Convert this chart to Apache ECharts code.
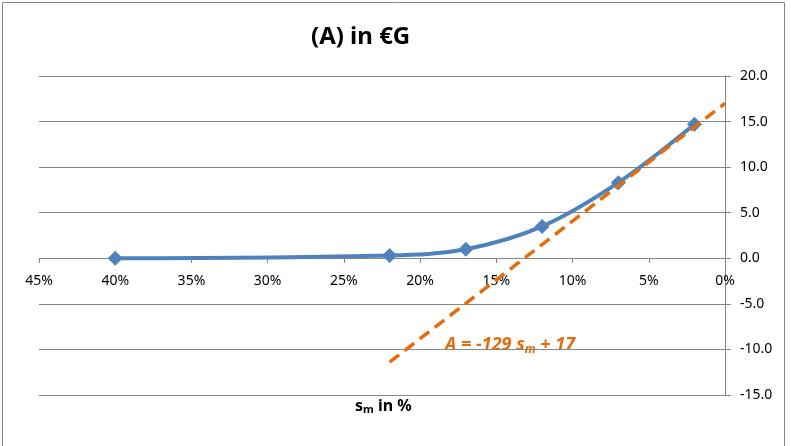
<!DOCTYPE html>
<html>
<head>
<meta charset="utf-8">
<script src="https://cdn.jsdelivr.net/npm/echarts@6/dist/echarts.min.js"></script>
<style>
    html, body { margin: 0; padding: 0; background: #fff; }
    #chart { width: 791px; height: 446px; }
</style>
</head>
<body>
<div id="chart"></div>
<script>
// s_m in % and A in €G
const sm = [40, 22, 17, 12, 7, 2];
const A = [0.0, 0.3, 1.0, 3.5, 8.3, 14.7];

// linear fit A = -129 s_m + 17, drawn from s_m = 22% to 0%
const trendSm = [22, 0];
const trendA = [-11.4, 17];

const xTicks = [0, 5, 10, 15, 20, 25, 30, 35, 40, 45];
const yTicks = [-15, -10, -5, 0, 5, 10, 15, 20];

const blue = '#4F81BD';
const orange = '#E46C0A';
const gray = '#868686';
const font = 'Noto Sans';

const chart = echarts.init(document.getElementById('chart'));

// grid 1 only carries the x axis, whose bottom edge sits on A = 0
chart.setOption({
    animation: false,
    backgroundColor: '#fff',
    textStyle: { fontFamily: font },
    grid: [
        { left: 39, right: 66, top: 76, bottom: 51 },
        { left: 39, right: 66, top: 76, bottom: 188 }
    ],
    xAxis: [{
        type: 'value',
        gridIndex: 0,
        inverse: true,
        min: xTicks[0],
        max: xTicks[xTicks.length - 1],
        interval: 5,
        show: false
    }, {
        type: 'value',
        gridIndex: 1,
        inverse: true,
        min: xTicks[0],
        max: xTicks[xTicks.length - 1],
        interval: 5,
        position: 'bottom',
        axisLine: { show: true, onZero: false, lineStyle: { color: gray, width: 1 } },
        axisTick: { show: true, length: 5, inside: false, lineStyle: { color: gray } },
        axisLabel: {
            color: '#000',
            fontSize: 14,
            margin: 16,
            formatter: v => v + '%'
        },
        splitLine: { show: false }
    }],
    yAxis: [{
        type: 'value',
        gridIndex: 0,
        position: 'right',
        min: yTicks[0],
        max: yTicks[yTicks.length - 1],
        interval: 5,
        axisLine: { show: true, onZero: false, lineStyle: { color: gray, width: 1 } },
        axisTick: { show: true, length: 6, lineStyle: { color: gray } },
        axisLabel: {
            color: '#000',
            fontSize: 14,
            margin: 15,
            formatter: v => v.toFixed(1)
        },
        splitLine: { show: true, lineStyle: { color: gray, width: 1 } }
    }, {
        type: 'value',
        gridIndex: 1,
        min: 0,
        max: 1,
        show: false
    }],
    series: [{
        name: 'A',
        type: 'line',
        smooth: 0.35,
        data: sm.map((s, i) => [s, A[i]]),
        symbol: 'diamond',
        symbolSize: 15,
        lineStyle: { color: blue, width: 4 },
        itemStyle: { color: blue },
        z: 3
    }, {
        name: 'fit',
        type: 'line',
        data: trendSm.map((s, i) => [s, trendA[i]]),
        showSymbol: false,
        symbol: 'none',
        lineStyle: { color: orange, width: 3.5, type: [12, 7] },
        z: 4
    }],
    graphic: [{
        type: 'rect',
        shape: { x: 2.5, y: 2.5, width: 782, height: 460 },
        style: { fill: null, stroke: gray, lineWidth: 1 },
        silent: true
    }, {
        type: 'text',
        left: 311,
        top: 25,
        style: {
            text: '(A) in €G',
            font: 'bold 24px "Noto Sans"',
            fill: '#000'
        }
    }, {
        type: 'text',
        left: 445,
        top: 336,
        style: {
            text: '{a|A = -129 s}{s|m}{a| + 17}',
            rich: {
                a: { font: 'italic bold 18px "Noto Sans"', fill: orange },
                s: { font: 'italic bold 12px "Noto Sans"', fill: orange, padding: [9, 0, 0, 0] }
            }
        }
    }, {
        type: 'text',
        left: 355,
        top: 398,
        style: {
            text: '{a|s}{s|m}{a| in %}',
            rich: {
                a: { font: 'bold 16px "Noto Sans"', fill: '#000' },
                s: { font: 'bold 11px "Noto Sans"', fill: '#000', padding: [8, 0, 0, 0] }
            }
        }
    }]
});
</script>
</body>
</html>
